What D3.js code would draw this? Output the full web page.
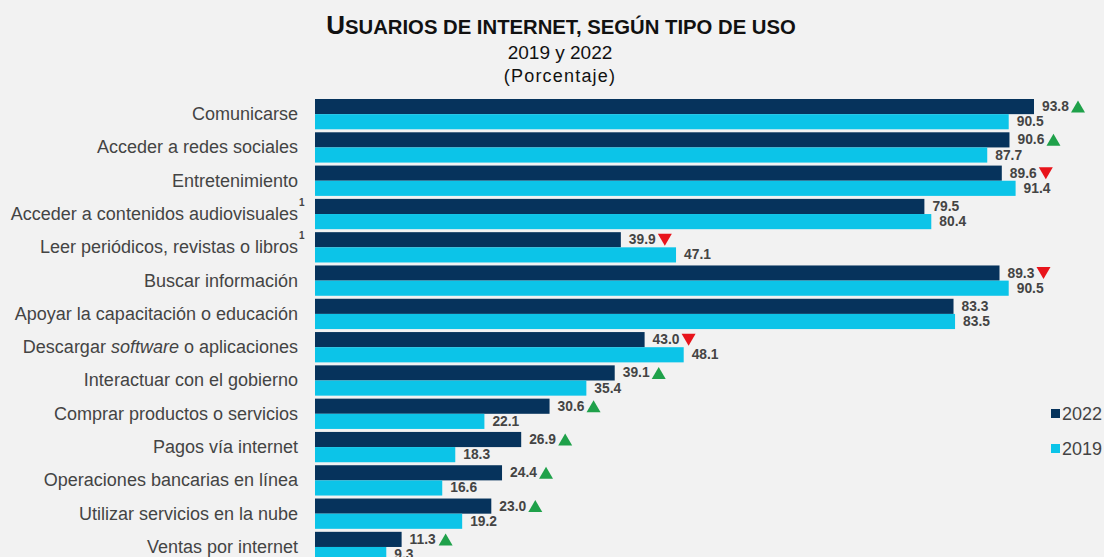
<!DOCTYPE html>
<html>
<head>
<meta charset="utf-8">
<script src="https://cdn.jsdelivr.net/npm/d3@7"></script>
<style>
  body { margin: 0; background: #f2f2f2; }
  svg { display: block; font-family: "Liberation Sans", Arial, sans-serif; }
</style>
</head>
<body>
<div id="chart"></div>
<script>
var categories = ["Comunicarse", "Acceder a redes sociales", "Entretenimiento",
  "Acceder a contenidos audiovisuales", "Leer periódicos, revistas o libros",
  "Buscar información", "Apoyar la capacitación o educación",
  "Descargar software o aplicaciones", "Interactuar con el gobierno",
  "Comprar productos o servicios", "Pagos vía internet",
  "Operaciones bancarias en línea", "Utilizar servicios en la nube",
  "Ventas por internet"];
var v2022 = [93.8, 90.6, 89.6, 79.5, 39.9, 89.3, 83.3, 43.0, 39.1, 30.6, 26.9, 24.4, 23.0, 11.3];
var v2019 = [90.5, 87.7, 91.4, 80.4, 47.1, 90.5, 83.5, 48.1, 35.4, 22.1, 18.3, 16.6, 19.2, 9.3];
var trend = ["up", "up", "down", "", "down", "down", "", "down", "up", "up", "up", "up", "up", "up"];
var notes = ["", "", "", "1", "1", "", "", "", "", "", "", "", "", ""];
var series = ["2022", "2019"];

var width = 1104, height = 557;
var colors = {"2022": "#06335c", "2019": "#0cc4e8"};

var svg = d3.select("#chart").append("svg")
    .attr("width", width)
    .attr("height", height);

svg.append("rect").attr("width", width).attr("height", height).attr("fill", "#f2f2f2");

// titulo
var t = svg.append("text")
    .attr("x", 561).attr("y", 34)
    .attr("text-anchor", "middle")
    .style("font-weight", "bold")
    .style("fill", "#111");
t.append("tspan").style("font-size", "26px").text("U");
t.append("tspan").style("font-size", "20.3px").text("SUARIOS DE INTERNET, SEGÚN TIPO DE USO");

svg.append("text").attr("x", 560).attr("y", 59).attr("text-anchor", "middle")
    .style("font-size", "19px").style("fill", "#111").text("2019 y 2022");
svg.append("text").attr("x", 560).attr("y", 82).attr("text-anchor", "middle")
    .style("font-size", "18px").style("letter-spacing", "1.2px").style("fill", "#111").text("(Porcentaje)");

var x = d3.scaleLinear()
    .domain([0, 93.8])
    .range([315, 1034]);

var y0 = d3.scaleBand()
    .domain(categories)
    .range([99, 99 + 33.08 * categories.length])
    .paddingInner(0.09)
    .paddingOuter(0);

var y1 = d3.scaleBand()
    .domain(series)
    .range([0, y0.bandwidth()]);

var rows = categories.map(function(c, i) {
  return {cat: c, vals: [{s: "2022", v: v2022[i]}, {s: "2019", v: v2019[i]}], trend: trend[i], note: notes[i]};
});

var g = svg.selectAll(".grp").data(rows).enter().append("g")
    .attr("class", "grp")
    .attr("transform", function(d){ return "translate(0," + y0(d.cat) + ")"; });

g.selectAll("rect").data(function(d){ return d.vals; }).enter().append("rect")
    .attr("x", x(0))
    .attr("y", function(d){ return y1(d.s); })
    .attr("width", function(d){ return x(d.v) - x(0); })
    .attr("height", y1.bandwidth())
    .attr("fill", function(d){ return colors[d.s]; });

g.selectAll(".val").data(function(d){ return d.vals; }).enter().append("text")
    .attr("class", "val")
    .attr("x", function(d){ return x(d.v) + 8; })
    .attr("y", function(d){ return y1(d.s) + y1.bandwidth() / 2 + 4.5; })
    .style("font-size", "13.8px")
    .style("font-weight", "bold")
    .style("fill", "#444")
    .text(function(d){ return d.v.toFixed(1); });

// flechas
g.filter(function(d){ return d.trend != ""; }).append("path")
    .attr("d", function(d){
      var cx = x(d.vals[0].v) + 44, cy = y1("2022") + y1.bandwidth() / 2;
      if (d.trend == "up") return "M" + (cx - 7) + "," + (cy + 6) + "L" + (cx + 7) + "," + (cy + 6) + "L" + cx + "," + (cy - 6) + "Z";
      return "M" + (cx - 7) + "," + (cy - 6) + "L" + (cx + 7) + "," + (cy - 6) + "L" + cx + "," + (cy + 6) + "Z";
    })
    .attr("fill", function(d){ return d.trend == "up" ? "#1fa14a" : "#e8141b"; });

// etiquetas de categoria
var lab = g.append("text")
    .attr("x", 298)
    .attr("y", y0.bandwidth() / 2 + 6)
    .attr("text-anchor", "end")
    .style("font-size", "18px")
    .style("fill", "#444");
lab.each(function(d){
  var el = d3.select(this);
  if (d.cat.indexOf("software") >= 0) {
    el.append("tspan").text("Descargar ");
    el.append("tspan").style("font-style", "italic").text("software");
    el.append("tspan").text(" o aplicaciones");
  } else {
    el.text(d.cat);
  }
});
g.filter(function(d){ return d.note != ""; }).append("text")
    .attr("x", 299).attr("y", y0.bandwidth() / 2 - 8)
    .style("font-size", "10px").style("font-weight", "bold").style("fill", "#444")
    .text(function(d){ return d.note; });

// leyenda
var leg = svg.selectAll(".leg").data(series).enter().append("g")
    .attr("class", "leg")
    .attr("transform", function(d, i){ return "translate(1051," + (409 + i * 35) + ")"; });
leg.append("rect").attr("width", 9).attr("height", 9).attr("fill", function(d){ return colors[d]; });
leg.append("text").attr("x", 11).attr("y", 11)
    .style("font-size", "18px").style("fill", "#444").text(function(d){ return d; });
</script>
</body>
</html>
